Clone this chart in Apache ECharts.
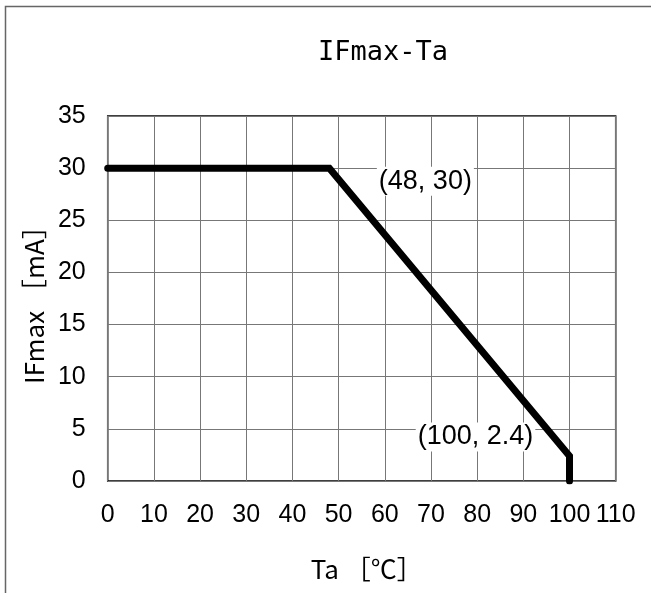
<!DOCTYPE html>
<html>
<head>
<meta charset="utf-8">
<script src="https://cdn.jsdelivr.net/npm/echarts@6/dist/echarts.min.js"></script>
<style>
html,body{margin:0;padding:0;background:#fff;}
#chart{width:651px;height:593px;}
</style>
</head>
<body>
<div id="chart"></div>
<script>
var ta = [0, 48, 100, 100];
var ifmax = [30, 30, 2.4, 0];
var noteTa = [48, 100];
var noteIf = [30, 2.4];
var noteText = ['(48, 30)', '(100, 2.4)'];
var xTicks = [0, 10, 20, 30, 40, 50, 60, 70, 80, 90, 100, 110];
var yTicks = [0, 5, 10, 15, 20, 25, 30, 35];

var lineData = ta.map(function (x, i) { return [x, ifmax[i]]; });
var noteOffsets = [[96, 13], [-94, -19]];
var noteData = noteTa.map(function (x, i) {
  return {
    value: [x, noteIf[i]],
    label: { formatter: noteText[i], offset: noteOffsets[i], color: '#000' }
  };
});

var chart = echarts.init(document.getElementById('chart'));
chart.setOption({
  animation: false,
  title: {
    text: 'IFmax-Ta',
    left: 378,
    top: 34,
    textAlign: 'center',
    textStyle: { fontSize: 27, fontWeight: 'normal', color: '#000', fontFamily: 'DejaVu Sans Mono' }
  },
  graphic: [{
    type: 'polyline',
    shape: { points: [[5.5, 593], [5.5, 6.5], [651, 6.5]] },
    style: { stroke: '#666', lineWidth: 1.5, fill: null }
  }],
  grid: {
    left: 107.7, right: 35.3, top: 116, bottom: 112,
    show: true, borderColor: '#000', borderWidth: 1.5, backgroundColor: 'transparent'
  },
  xAxis: {
    type: 'value', min: xTicks[0], max: xTicks[xTicks.length - 1], interval: 10,
    name: 'Ta ［℃］', nameLocation: 'middle', nameGap: 75,
    nameTextStyle: { fontSize: 26, color: '#000', fontFamily: 'Noto Sans CJK JP', padding: [0, 0, 0, 10] },
    axisLine: { show: false }, axisTick: { show: false },
    axisLabel: { fontSize: 25, color: '#000', margin: 22, fontFamily: 'Liberation Sans Narrow, Liberation Sans' },
    splitLine: { show: true, lineStyle: { color: '#777', width: 1 } }
  },
  yAxis: {
    type: 'value', min: yTicks[0], max: yTicks[yTicks.length - 1], interval: 5,
    name: 'IFmax ［mA］', nameLocation: 'middle', nameGap: 53,
    nameTextStyle: { fontSize: 26, color: '#000', fontFamily: 'Noto Sans CJK JP' },
    axisLine: { show: false }, axisTick: { show: false },
    axisLabel: { fontSize: 25, color: '#000', margin: 22, fontFamily: 'Liberation Sans Narrow, Liberation Sans' },
    splitLine: { show: true, lineStyle: { color: '#777', width: 1 } }
  },
  series: [{
    type: 'line',
    data: lineData,
    symbol: 'none',
    lineStyle: { color: '#000', width: 7, cap: 'round', join: 'miter' },
    z: 5
  }, {
    type: 'scatter',
    data: noteData,
    symbolSize: 0,
    itemStyle: { opacity: 1, color: '#000' },
    z: 4,
    label: {
      show: true,
      position: 'inside',
      fontSize: 27,
      color: '#000',
      fontFamily: 'Liberation Sans',
      backgroundColor: '#fff',
      padding: [1, 2]
    }
  }]
});
</script>
</body>
</html>
